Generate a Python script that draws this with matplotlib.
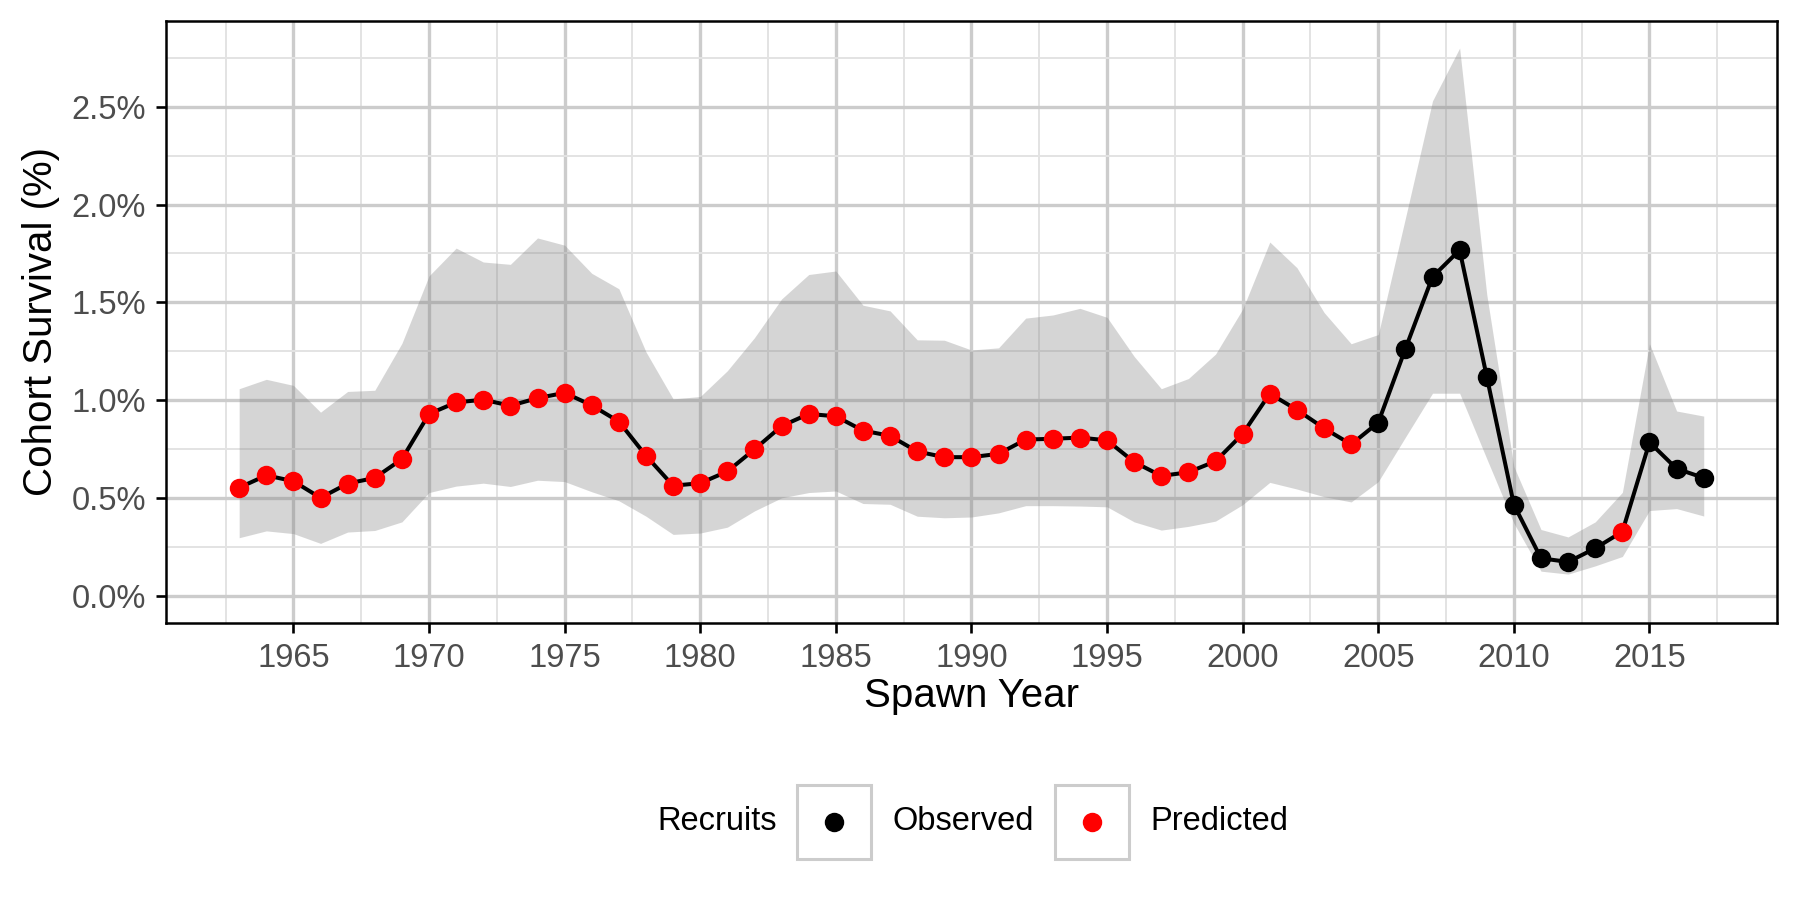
import matplotlib
matplotlib.use("Agg")
import matplotlib.pyplot as plt
from matplotlib.lines import Line2D
from matplotlib.patches import Rectangle
from matplotlib.ticker import MultipleLocator, FuncFormatter

plt.rcParams['font.family'] = ['Liberation Sans', 'DejaVu Sans']

# spawn years and cohort survival (%), with the ribbon bounds
years = list(range(1963, 2018))
survival = [0.552, 0.615, 0.585, 0.500, 0.573, 0.602, 0.698, 0.929, 0.988, 1.002,
            0.971, 1.010, 1.037, 0.973, 0.890, 0.715, 0.562, 0.575, 0.635, 0.748,
            0.867, 0.929, 0.917, 0.844, 0.817, 0.737, 0.708, 0.708, 0.725, 0.798,
            0.802, 0.808, 0.794, 0.683, 0.612, 0.631, 0.687, 0.827, 1.033, 0.950,
            0.856, 0.773, 0.885, 1.262, 1.630, 1.767, 1.120, 0.465, 0.191, 0.172,
            0.242, 0.327, 0.784, 0.649, 0.602]
lower = [0.296, 0.331, 0.317, 0.267, 0.325, 0.333, 0.377, 0.527, 0.560, 0.575,
         0.558, 0.590, 0.583, 0.531, 0.485, 0.406, 0.313, 0.320, 0.350, 0.433,
         0.500, 0.527, 0.535, 0.471, 0.467, 0.406, 0.398, 0.402, 0.423, 0.460,
         0.460, 0.458, 0.454, 0.377, 0.335, 0.354, 0.381, 0.465, 0.579, 0.545,
         0.506, 0.479, 0.583, 0.810, 1.035, 1.035, 0.700, 0.370, 0.125, 0.110,
         0.152, 0.200, 0.435, 0.445, 0.407]
upper = [1.058, 1.106, 1.075, 0.938, 1.044, 1.050, 1.290, 1.635, 1.777, 1.706,
         1.694, 1.829, 1.792, 1.648, 1.569, 1.246, 1.006, 1.018, 1.150, 1.319,
         1.517, 1.642, 1.660, 1.485, 1.456, 1.308, 1.306, 1.256, 1.267, 1.419,
         1.435, 1.469, 1.423, 1.223, 1.058, 1.110, 1.235, 1.465, 1.808, 1.677,
         1.448, 1.288, 1.335, 1.930, 2.530, 2.800, 1.540, 0.660, 0.338, 0.300,
         0.377, 0.528, 1.288, 0.944, 0.918]
# recruits source for each year
recruits = ['Predicted'] * 42 + ['Observed'] * 9 + ['Predicted'] + ['Observed'] * 3
recruit_colors = {'Observed': 'black', 'Predicted': 'red'}

fig = plt.figure(figsize=(18, 9), dpi=100)
ax = fig.add_axes([0.0922, 0.3078, 0.8950, 0.6692])

ax.fill_between(years, lower, upper, color='#7F7F7F', alpha=0.32, lw=0, zorder=1)
ax.plot(years, survival, color='black', lw=2.9, zorder=2)
for kind in ['Observed', 'Predicted']:
    xs = [y for y, r in zip(years, recruits) if r == kind]
    vs = [v for v, r in zip(survival, recruits) if r == kind]
    ax.plot(xs, vs, 'o', color=recruit_colors[kind], ms=14, mew=0, zorder=3)

# ggplot style limits (5% padding)
ax.set_xlim(1960.3, 2019.7)
ax.set_ylim(-0.14, 2.94)
ax.xaxis.set_major_locator(MultipleLocator(5))
ax.xaxis.set_minor_locator(MultipleLocator(2.5))
ax.yaxis.set_major_locator(MultipleLocator(0.5))
ax.yaxis.set_minor_locator(MultipleLocator(0.25))
ax.yaxis.set_major_formatter(FuncFormatter(lambda v, p: '%.1f%%' % v))

ax.set_axisbelow(True)
ax.grid(which='major', color='#CCCCCC', lw=2.4)
ax.grid(which='minor', color='#E3E3E3', lw=1.4)
for s in ax.spines.values():
    s.set_color('black')
    s.set_linewidth(1.8)
ax.tick_params(which='major', length=7.5, width=1.9, color='black',
               labelsize=23.5, labelcolor='#4D4D4D', pad=7)
ax.tick_params(which='minor', length=0)

ax.set_xlabel('Spawn Year', fontsize=29)
ax.set_ylabel('Cohort Survival (%)', fontsize=29)
ax.xaxis.set_label_coords(0.5, -0.09)
ax.yaxis.set_label_coords(-0.066, 0.5)

# legend drawn below the panel, keys in boxes like ggplot
W, H = 1800.0, 900.0
ycen = 822
fig.text(657 / W, 1 - ycen / H, 'Recruits', fontsize=23.5, va='center', ha='left')
for bx, tx, kind in [(797, 892, 'Observed'), (1055, 1150, 'Predicted')]:
    fig.add_artist(Rectangle((bx / W, 1 - 859 / H), 74 / W, 74 / H, transform=fig.transFigure,
                             facecolor='white', edgecolor='#CCCCCC', lw=2.2))
    fig.add_artist(Line2D([(bx + 37) / W], [1 - ycen / H], transform=fig.transFigure,
                          marker='o', ms=14, mew=0, color=recruit_colors[kind], ls=''))
    fig.text(tx / W, 1 - ycen / H, kind, fontsize=23.5, va='center', ha='left')

fig.savefig('out.png', dpi=100)
